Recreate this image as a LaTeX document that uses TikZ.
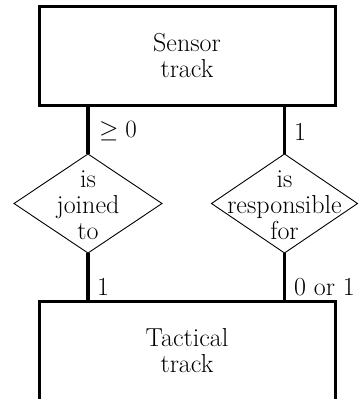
\documentclass[tikz,border=0pt]{standalone}
\usetikzlibrary{shapes.geometric}
\begin{document}
\begin{tikzpicture}[x=1pt,y=-1pt,
  entity/.style={draw,line width=3pt,minimum width=296pt,minimum height=99pt,inner sep=0pt,outer sep=0pt},
  rel/.style={draw,diamond,line width=0.9pt,inner sep=0pt,outer sep=0pt,minimum height=99pt},
  txt/.style={align=center,font=\fontsize{26}{26}\selectfont,inner sep=0pt},
  lbl/.style={anchor=west,font=\fontsize{26}{26}\selectfont,inner sep=0pt},
  conn/.style={line width=3.3pt}]
\clip (0,0) rectangle (363,399);
\fill[white] (0,0) rectangle (363,399);
\node[entity] (sensor) at (187,55.5) {};
\node[txt] (sensortxt) at (sensor.center) {Sensor\\track};
\node[entity] (tactical) at (187,351) {};
\node[txt] (tacticaltxt) at (tactical.center) {Tactical\\track};
\node[rel,minimum width=148pt] (joined) at (88,203.5) {};
\node[txt] (joinedtxt) at (88,205) {is\\joined\\to};
\node[rel,minimum width=146pt] (resp) at (284.5,203.5) {};
\node[txt] (resptxt) at (284.5,205) {is\\responsible\\for};
\draw[conn] (joined.north) -- (joined.north |- sensor.south);
\draw[conn] (resp.north) -- (resp.north |- sensor.south);
\draw[conn] (joined.south) -- (joined.south |- tactical.north);
\draw[conn] (resp.south) -- (resp.south |- tactical.north);
\node[lbl] (l1) at (99,131) {$\geq 0$};
\node[lbl] (l2) at (294,132) {1};
\node[lbl] (l3) at (97,287) {1};
\node[lbl] (l4) at (294,287) {0 or 1};
\end{tikzpicture}
\end{document}
